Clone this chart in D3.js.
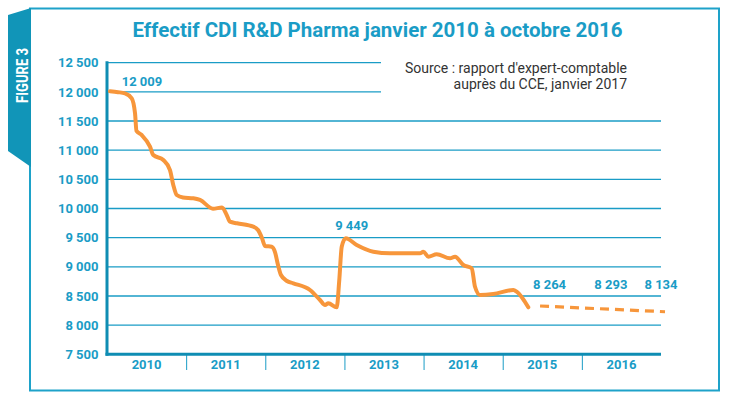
<!DOCTYPE html>
<html>
<head>
<meta charset="utf-8">
<script src="https://cdn.jsdelivr.net/npm/d3@7"></script>
<style>
  body { margin: 0; background: #fff; }
  svg text { font-family: Roboto, "Open Sans", sans-serif; }
</style>
</head>
<body>
<svg id="chart" width="730" height="399"></svg>
<script>
// months since january 2010 and headcount
const mois = [0.45, 1.67, 2.73, 3.75, 4.25, 4.47, 5.26, 6.52, 7.02, 8.54, 9.55, 10.05, 10.57, 11.52,
  13.09, 14.10, 16.07, 17.44, 18.15, 18.65, 19.71, 22.18, 22.90, 23.50, 23.96, 24.97, 25.47, 25.93,
  26.38, 27.29, 28.25, 30.78, 32.30, 33.06, 33.56, 34.83, 35.22, 35.59, 36.19, 37.86, 40.38, 42.91,
  47.46, 47.96, 48.72, 49.99, 52.01, 52.77, 54.03, 55.30, 55.80, 56.56, 58.57, 61.61, 62.12, 63.88];
const effectif = [12009, 11995, 11975, 11890, 11632, 11330, 11260, 11060, 10917, 10832, 10660, 10403, 10231, 10189,
  10175, 10146, 9997, 10017, 9889, 9774, 9746, 9688, 9631, 9494, 9357, 9345, 9254, 9031,
  8860, 8757, 8717, 8603, 8431, 8345, 8374, 8306, 8774, 9345, 9490, 9374, 9259, 9232,
  9232, 9259, 9174, 9215, 9146, 9174, 9031, 8975, 8659, 8517, 8534, 8603, 8573, 8306];

// projection (dashed part)
const moisPrev = [65.66, 84.61];
const effectifPrev = [8328, 8230];

const annees = ["2010", "2011", "2012", "2013", "2014", "2015", "2016"];
const yTicks = [7500, 8000, 8500, 9000, 9500, 10000, 10500, 11000, 11500, 12000, 12500];

// value labels
const etiquettes = ["12 009", "9 449", "8 264", "8 293", "8 134"];
const etiqMois = [5.3, 37.1, 67.1, 76.4, 84.0];

const titre = "Effectif CDI R&D Pharma janvier 2010 à octobre 2016";
const source = ["Source : rapport d'expert-comptable", "auprès du CCE, janvier 2017"];

const teal = "#1a9cc6";
const tealDark = "#0f8db3";
const orange = "#f7963b";

const svg = d3.select("#chart");

// frame + "FIGURE 3" tab
svg.append("rect")
  .attr("x", 30).attr("y", 8.5).attr("width", 689).attr("height", 382)
  .attr("fill", "none").attr("stroke", "#1ea2c9").attr("stroke-width", 2);

svg.append("polygon")
  .attr("points", "8,15 31,8 31,167 8,151")
  .attr("fill", "#1195b8");

svg.append("text")
  .attr("transform", "translate(27.5,75.5) rotate(-90)")
  .attr("text-anchor", "middle")
  .attr("fill", "#fff")
  .attr("font-family", "'DejaVu Sans Condensed', 'DejaVu Sans', sans-serif")
  .attr("font-weight", "bold")
  .attr("font-size", 17)
  .attr("textLength", 55)
  .attr("lengthAdjust", "spacingAndGlyphs")
  .text("FIGURE 3");

// title
svg.append("text")
  .attr("x", 377.5).attr("y", 36.5)
  .attr("text-anchor", "middle")
  .attr("fill", teal)
  .attr("font-weight", "bold")
  .attr("font-size", 20.5)
  .text(titre);

const x = d3.scaleLinear().domain([0, 84]).range([107, 661]);
const y = d3.scaleLinear().domain([7500, 12500]).range([354.3, 62.7]);

const fr = d3.formatLocale({ decimal: ",", thousands: " ", grouping: [3], currency: ["", " €"] });
const fmt = fr.format(",d");

// gridlines
svg.append("g")
  .selectAll("line")
  .data(yTicks.filter(d => d > 7500))
  .join("line")
  .attr("x1", x(0)).attr("x2", x(84))
  .attr("y1", d => y(d)).attr("y2", d => y(d))
  .attr("stroke", teal).attr("stroke-width", 1.3);

// source box hides the top gridlines
svg.append("rect")
  .attr("x", 381).attr("y", 52).attr("width", 285).attr("height", 48)
  .attr("fill", "#fff");

svg.append("g")
  .selectAll("text")
  .data(source)
  .join("text")
  .attr("x", 627).attr("y", (d, i) => 72.5 + i * 16.7)
  .attr("text-anchor", "end")
  .attr("fill", "#333")
  .attr("font-size", 14)
  .text(d => d);

// y axis labels
const yAxis = svg.append("g")
  .attr("transform", "translate(98.5,0)")
  .call(d3.axisLeft(y).tickValues(yTicks).tickSize(0).tickPadding(0).tickFormat(fmt));
yAxis.select(".domain").remove();
yAxis.selectAll("text")
  .attr("fill", teal)
  .attr("font-family", "Roboto, sans-serif")
  .attr("font-weight", "bold")
  .attr("font-size", 13);

// year separators
const xAxis = svg.append("g")
  .attr("transform", "translate(0,355)")
  .call(d3.axisBottom(x).tickValues(d3.range(12, 84, 12)).tickSize(15).tickFormat(""));
xAxis.select(".domain").remove();
xAxis.selectAll("line").attr("stroke", teal).attr("stroke-width", 1);

svg.append("g")
  .selectAll("text")
  .data(annees)
  .join("text")
  .attr("x", (d, i) => x(i * 12 + 6))
  .attr("y", 368.5)
  .attr("text-anchor", "middle")
  .attr("fill", teal)
  .attr("font-weight", "bold")
  .attr("font-size", 13)
  .text(d => d);

// axis lines
svg.append("line")
  .attr("x1", x(0)).attr("x2", x(0))
  .attr("y1", y(12500) - 1.5).attr("y2", y(7500) + 1.5)
  .attr("stroke", tealDark).attr("stroke-width", 3);
svg.append("line")
  .attr("x1", x(0) - 1.5).attr("x2", x(84))
  .attr("y1", y(7500)).attr("y2", y(7500))
  .attr("stroke", tealDark).attr("stroke-width", 3);

// series
const line = d3.line()
  .x(d => x(d[0]))
  .y(d => y(d[1]))
  .curve(d3.curveMonotoneX);

svg.append("path")
  .datum(d3.zip(mois, effectif))
  .attr("d", line)
  .attr("fill", "none")
  .attr("stroke", orange)
  .attr("stroke-width", 4)
  .attr("stroke-linecap", "round")
  .attr("stroke-linejoin", "round");

svg.append("path")
  .datum(d3.zip(moisPrev, effectifPrev))
  .attr("d", d3.line().x(d => x(d[0])).y(d => y(d[1])))
  .attr("fill", "none")
  .attr("stroke", orange)
  .attr("stroke-width", 3.2)
  .attr("stroke-dasharray", "9,6");

// value labels
const etiqY = [y(12009) - 5, y(9449) - 11, 289, 289, 289];
svg.append("g")
  .selectAll("text")
  .data(etiquettes)
  .join("text")
  .attr("x", (d, i) => x(etiqMois[i]))
  .attr("y", (d, i) => etiqY[i])
  .attr("text-anchor", "middle")
  .attr("fill", teal)
  .attr("font-weight", "bold")
  .attr("font-size", 13)
  .text(d => d);
</script>
</body>
</html>
